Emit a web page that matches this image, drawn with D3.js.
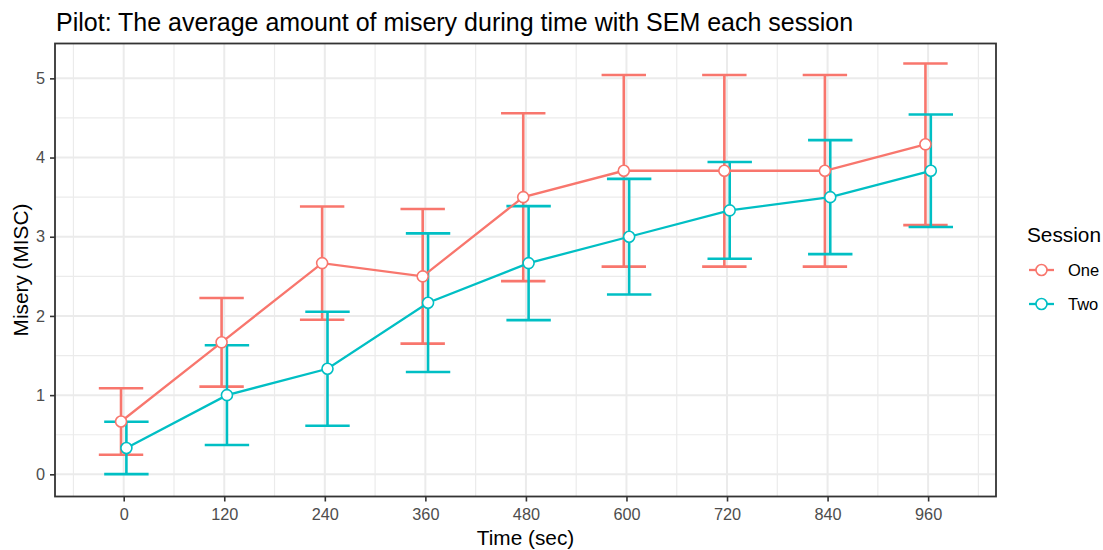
<!DOCTYPE html>
<html>
<head>
<meta charset="utf-8">
<script src="https://cdn.jsdelivr.net/npm/d3@7"></script>
<style>
  html, body { margin: 0; padding: 0; background: #fff; }
  svg { display: block; font-family: "Liberation Sans", Arial, sans-serif; }
</style>
</head>
<body>
<svg id="chart" width="1103" height="550"></svg>
<script>
// Time points (seconds) and session labels
const times = [0, 120, 240, 360, 480, 600, 720, 840, 960];
const sessions = ["One", "Two"];

// Mean misery per time point
const meanOne = [0.667, 1.667, 2.667, 2.5, 3.5, 3.833, 3.833, 3.833, 4.167];
const meanTwo = [0.333, 1.0, 1.333, 2.167, 2.667, 3.0, 3.333, 3.5, 3.833];

// Standard error of the mean per time point
const semOne = [0.42, 0.56, 0.715, 0.85, 1.06, 1.21, 1.21, 1.21, 1.02];
const semTwo = [0.33, 0.63, 0.72, 0.875, 0.72, 0.73, 0.61, 0.72, 0.71];

const xTicks = [0, 120, 240, 360, 480, 600, 720, 840, 960];
const yTicks = [0, 1, 2, 3, 4, 5];

const colors = { One: "#F8766D", Two: "#00BFC4" };

const series = [
  { name: "One", mean: meanOne, sem: semOne, dodge: -3.2 },
  { name: "Two", mean: meanTwo, sem: semTwo, dodge: 3.2 }
];

const svg = d3.select("#chart");
const panel = { left: 55, right: 996, top: 43.5, bottom: 496.5 };

const x = d3.scaleLinear().domain([-82, 1041]).range([panel.left, panel.right]);
const y = d3.scaleLinear().domain([-0.28, 5.44]).range([panel.bottom, panel.top]);

// Panel background
svg.append("rect")
  .attr("x", panel.left).attr("y", panel.top)
  .attr("width", panel.right - panel.left).attr("height", panel.bottom - panel.top)
  .attr("fill", "#fff");

const grid = svg.append("g");
// Minor grid
const xMinor = d3.range(-60, 1041, 120);
const yMinor = [0.5, 1.5, 2.5, 3.5, 4.5];
grid.selectAll(".xminor").data(xMinor).join("line")
  .attr("x1", d => x(d)).attr("x2", d => x(d))
  .attr("y1", panel.top).attr("y2", panel.bottom)
  .attr("stroke", "#EBEBEB").attr("stroke-width", 1.2);
grid.selectAll(".yminor").data(yMinor).join("line")
  .attr("y1", d => y(d)).attr("y2", d => y(d))
  .attr("x1", panel.left).attr("x2", panel.right)
  .attr("stroke", "#EBEBEB").attr("stroke-width", 1.2);
// Major grid
grid.selectAll(".xmajor").data(xTicks).join("line")
  .attr("x1", d => x(d)).attr("x2", d => x(d))
  .attr("y1", panel.top).attr("y2", panel.bottom)
  .attr("stroke", "#EBEBEB").attr("stroke-width", 2);
grid.selectAll(".ymajor").data(yTicks).join("line")
  .attr("y1", d => y(d)).attr("y2", d => y(d))
  .attr("x1", panel.left).attr("x2", panel.right)
  .attr("stroke", "#EBEBEB").attr("stroke-width", 2);

// Error bars
const capHalf = 26.5;
const marks = svg.append("g");
series.forEach(s => {
  const g = marks.append("g").attr("stroke", colors[s.name]).attr("stroke-width", 2.6).attr("fill", "none");
  times.forEach((t, i) => {
    const cx = x(t + s.dodge);
    const lo = y(s.mean[i] - s.sem[i]);
    const hi = y(s.mean[i] + s.sem[i]);
    g.append("line").attr("x1", cx).attr("x2", cx).attr("y1", lo).attr("y2", hi);
    g.append("line").attr("x1", x(t + s.dodge - capHalf)).attr("x2", x(t + s.dodge + capHalf)).attr("y1", lo).attr("y2", lo);
    g.append("line").attr("x1", x(t + s.dodge - capHalf)).attr("x2", x(t + s.dodge + capHalf)).attr("y1", hi).attr("y2", hi);
  });
});

// Lines
const line = d3.line().x(d => x(d.t)).y(d => y(d.v));
series.forEach(s => {
  const pts = times.map((t, i) => ({ t: t + s.dodge, v: s.mean[i] }));
  marks.append("path").datum(pts)
    .attr("d", line).attr("fill", "none")
    .attr("stroke", colors[s.name]).attr("stroke-width", 2.3);
});

// Points
series.forEach(s => {
  marks.append("g").selectAll("circle").data(times).join("circle")
    .attr("cx", t => x(t + s.dodge))
    .attr("cy", (t, i) => y(s.mean[i]))
    .attr("r", 5.5)
    .attr("fill", "#fff")
    .attr("stroke", colors[s.name]).attr("stroke-width", 1.6);
});

// Panel border
svg.append("rect")
  .attr("x", panel.left).attr("y", panel.top)
  .attr("width", panel.right - panel.left).attr("height", panel.bottom - panel.top)
  .attr("fill", "none").attr("stroke", "#333333").attr("stroke-width", 1.8);

// Axes
const xAxis = d3.axisBottom(x).tickValues(xTicks).tickSizeOuter(0).tickSizeInner(5).tickPadding(7);
const yAxis = d3.axisLeft(y).tickValues(yTicks).tickFormat(d3.format("d"))
  .tickSizeOuter(0).tickSizeInner(5).tickPadding(5);

const gx = svg.append("g").attr("transform", `translate(0,${panel.bottom})`).call(xAxis);
const gy = svg.append("g").attr("transform", `translate(${panel.left},0)`).call(yAxis);
[gx, gy].forEach(g => {
  g.select(".domain").remove();
  g.selectAll(".tick line").attr("stroke", "#333333").attr("stroke-width", 1.6);
  g.selectAll(".tick text").attr("fill", "#4D4D4D")
    .style("font-size", "16.3px").style("font-family", "Liberation Sans, Arial, sans-serif");
});

// Titles
svg.append("text").attr("x", 56).attr("y", 31)
  .attr("fill", "#000").style("font-size", "25px")
  .text("Pilot: The average amount of misery during time with SEM each session");

svg.append("text").attr("x", (panel.left + panel.right) / 2).attr("y", 545)
  .attr("text-anchor", "middle").attr("fill", "#000").style("font-size", "20.8px")
  .text("Time (sec)");

svg.append("text")
  .attr("transform", `translate(28,${(panel.top + panel.bottom) / 2}) rotate(-90)`)
  .attr("text-anchor", "middle").attr("fill", "#000").style("font-size", "20.8px")
  .text("Misery (MISC)");

// Legend
const legend = svg.append("g").attr("transform", "translate(1027,0)");
legend.append("text").attr("x", 0).attr("y", 242)
  .attr("fill", "#000").style("font-size", "20.8px").text("Session");
sessions.forEach((name, i) => {
  const cy = 270 + i * 34;
  legend.append("line").attr("x1", 2).attr("x2", 27).attr("y1", cy).attr("y2", cy)
    .attr("stroke", colors[name]).attr("stroke-width", 2.3);
  legend.append("circle").attr("cx", 14.5).attr("cy", cy).attr("r", 5.5)
    .attr("fill", "#fff").attr("stroke", colors[name]).attr("stroke-width", 1.6);
  legend.append("text").attr("x", 41).attr("y", cy + 6)
    .attr("fill", "#000").style("font-size", "16.5px").text(name);
});
</script>
</body>
</html>
